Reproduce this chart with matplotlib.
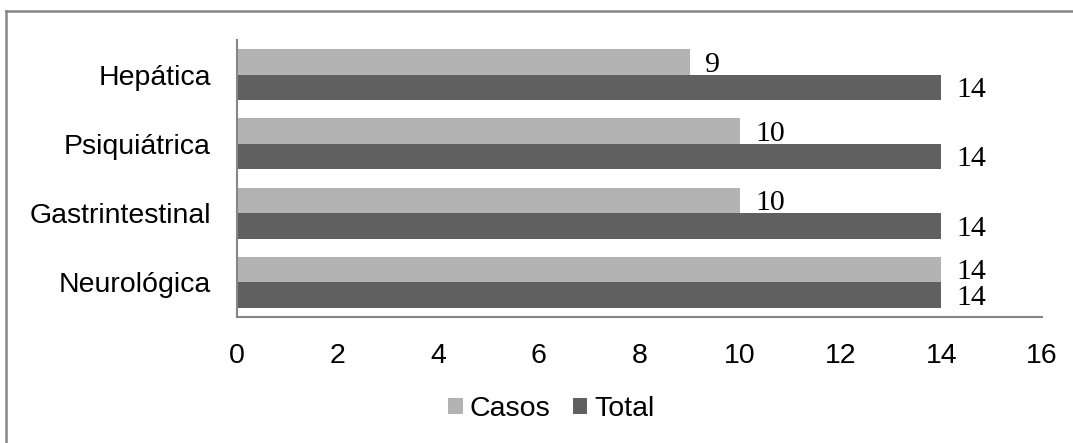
import numpy as np
import matplotlib.pyplot as plt
from matplotlib.lines import Line2D

categories = ['Neurológica', 'Gastrintestinal', 'Psiquiátrica', 'Hepática']
casos = [14, 10, 10, 9]
total = [14, 14, 14, 14]
xticks = [0, 2, 4, 6, 8, 10, 12, 14, 16]

color_casos = '#b3b3b3'
color_total = '#606060'
edge_gray = '#868686'

fig = plt.figure(figsize=(10.73, 4.43), dpi=100)
ax = fig.add_axes([0.2209, 0.2844, 0.7502, 0.6253])

y = np.arange(len(categories))
h = 0.368
ax.barh(y + h / 2, casos, height=h, color=color_casos, label='Casos')
ax.barh(y - h / 2, total, height=h, color=color_total, label='Total')

# value labels beside each bar
for yi, c, t in zip(y, casos, total):
    ax.annotate(str(c), (c, yi + h / 2), xytext=(11, -2), textcoords='offset points',
                va='center', ha='left', fontsize=21.5, family='Liberation Serif')
    ax.annotate(str(t), (t, yi - h / 2), xytext=(11, -2), textcoords='offset points',
                va='center', ha='left', fontsize=21.5, family='Liberation Serif')

ax.set_xlim(0, 16)
ax.set_ylim(-0.5, 3.5)
ax.set_xticks(xticks)
ax.set_xticklabels([str(v) for v in xticks], fontsize=20.5, family='Liberation Sans')
ax.set_yticks(y)
ax.set_yticklabels(categories, fontsize=20.5, family='Liberation Sans')
ax.tick_params(axis='x', length=0, pad=19)
ax.tick_params(axis='y', length=0, pad=19)

for side in ['top', 'right']:
    ax.spines[side].set_visible(False)
for side in ['left', 'bottom']:
    ax.spines[side].set_color(edge_gray)
    ax.spines[side].set_linewidth(1.5)

leg = fig.legend(loc='center', bbox_to_anchor=(0.514, 0.077), ncol=2, frameon=False,
                 prop={'family': 'Liberation Sans', 'size': 20.5},
                 handlelength=0.5, handleheight=0.5, handletextpad=0.25,
                 columnspacing=0.8)

# outer chart border (top and left edges)
fig.add_artist(Line2D([6 / 1073, 1], [1 - 11 / 443, 1 - 11 / 443], color=edge_gray,
                      lw=1.8, transform=fig.transFigure))
fig.add_artist(Line2D([6 / 1073, 6 / 1073], [0, 1 - 11 / 443], color=edge_gray,
                      lw=1.8, transform=fig.transFigure))

fig.savefig('out.png', dpi=100)
